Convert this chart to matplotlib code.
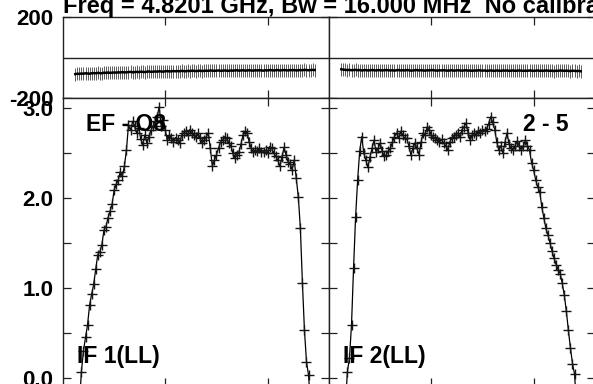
import matplotlib
matplotlib.use("Agg")
import matplotlib.pyplot as plt
import numpy as np

plt.rcParams['font.family'] = ['Liberation Sans', 'DejaVu Sans']
plt.rcParams['font.weight'] = 'bold'

title = "Freq = 4.8201 GHz, Bw = 16.000 MHz  No calibration"
panel_labels = ["IF 1(LL)", "IF 2(LL)"]
baseline_labels = ["EF - O8", "2 - 5"]

# phase (deg), channels 6..123
phase_chan = list(range(6, 124))
phase_if1 = [-82, -80, -81, -79, -80, -78, -79, -80, -78, -77,
             -78, -76, -77, -78, -75, -76, -74, -76, -75, -74,
             -75, -73, -74, -72, -74, -73, -72, -71, -73, -72,
             -71, -72, -70, -71, -72, -70, -69, -71, -70, -69,
             -70, -68, -69, -70, -68, -67, -69, -68, -67, -68,
             -67, -68, -66, -67, -68, -66, -67, -65, -66, -67,
             -66, -65, -67, -66, -65, -66, -64, -65, -66, -65,
             -64, -66, -65, -64, -65, -66, -64, -65, -64, -63,
             -65, -64, -63, -65, -64, -63, -64, -65, -63, -64,
             -63, -64, -65, -63, -64, -62, -63, -64, -63, -62,
             -64, -63, -62, -63, -64, -62, -63, -62, -64, -63,
             -62, -63, -61, -62, -63, -62, -61, -62]
phase_if2 = [-58, -60, -61, -62, -61, -63, -62, -61, -63, -62,
             -64, -63, -62, -64, -63, -62, -63, -64, -62, -63,
             -64, -63, -62, -63, -64, -63, -65, -63, -62, -64,
             -63, -64, -62, -63, -65, -64, -63, -62, -64, -63,
             -64, -65, -63, -64, -62, -63, -64, -65, -63, -64,
             -63, -64, -65, -64, -63, -65, -64, -63, -64, -65,
             -64, -63, -65, -64, -66, -64, -65, -63, -64, -65,
             -64, -66, -65, -64, -65, -66, -64, -65, -66, -64,
             -65, -64, -66, -65, -64, -66, -65, -64, -65, -66,
             -65, -66, -64, -65, -66, -65, -64, -66, -65, -66,
             -64, -65, -66, -65, -67, -65, -66, -64, -65, -66,
             -65, -66, -67, -65, -66, -67, -66, -68]
phase_err = 32

# amplitude, channels 8..121
amp_chan = list(range(8, 122))
amp_if1 = [-0.3, 0.07, 0.30, 0.45, 0.59, 0.81, 0.93, 1.04, 1.21, 1.37,
           1.40, 1.48, 1.64, 1.68, 1.78, 1.85, 1.93, 2.09, 2.15, 2.20,
           2.29, 2.24, 2.35, 2.53, 2.81, 2.75, 2.85, 2.80, 2.72, 2.78,
           2.65, 2.59, 2.70, 2.61, 2.68, 2.75, 2.80, 2.85, 2.90, 3.01,
           2.80, 2.87, 2.75, 2.64, 2.70, 2.66, 2.62, 2.67, 2.64, 2.61,
           2.70, 2.72, 2.74, 2.70, 2.76, 2.72, 2.70, 2.68, 2.72, 2.66,
           2.61, 2.64, 2.68, 2.72, 2.55, 2.35, 2.42, 2.48, 2.55, 2.62,
           2.64, 2.68, 2.66, 2.61, 2.58, 2.50, 2.44, 2.48, 2.51, 2.60,
           2.70, 2.74, 2.72, 2.62, 2.55, 2.51, 2.53, 2.52, 2.55, 2.51,
           2.51, 2.53, 2.50, 2.57, 2.55, 2.50, 2.46, 2.42, 2.35, 2.45,
           2.56, 2.48, 2.40, 2.38, 2.31, 2.42, 2.22, 2.01, 1.67, 1.06,
           0.53, 0.18, 0.03, -0.3]
amp_if2 = [-0.3, 0.07, 0.22, 0.59, 1.22, 1.79, 2.20, 2.52, 2.68, 2.50,
           2.42, 2.34, 2.45, 2.55, 2.64, 2.51, 2.55, 2.61, 2.52, 2.46,
           2.48, 2.52, 2.55, 2.62, 2.68, 2.72, 2.66, 2.74, 2.70, 2.66,
           2.66, 2.58, 2.48, 2.55, 2.61, 2.55, 2.48, 2.62, 2.72, 2.70,
           2.79, 2.75, 2.70, 2.68, 2.66, 2.64, 2.62, 2.65, 2.61, 2.58,
           2.53, 2.62, 2.66, 2.68, 2.70, 2.72, 2.68, 2.76, 2.79, 2.83,
           2.72, 2.64, 2.70, 2.72, 2.70, 2.74, 2.72, 2.76, 2.74, 2.77,
           2.82, 2.90, 2.84, 2.76, 2.62, 2.53, 2.58, 2.50, 2.62, 2.72,
           2.60, 2.55, 2.53, 2.58, 2.63, 2.58, 2.53, 2.58, 2.64, 2.58,
           2.53, 2.39, 2.31, 2.20, 2.12, 2.07, 1.90, 1.78, 1.66, 1.59,
           1.50, 1.41, 1.33, 1.26, 1.20, 1.16, 1.05, 0.92, 0.74, 0.53,
           0.33, 0.16, 0.04, -0.3]

W, H = 593, 384
fig = plt.figure(figsize=(W / 100, H / 100), dpi=100)

def fx(px):
    return px / W

def fy(py_top, py_bot):
    return (H - py_bot) / H, (py_bot - py_top) / H

pw = 266
lefts = [63, 329]
top_b, top_h = fy(17, 98)
bot_b, bot_h = fy(98, 386)

phases = [phase_if1, phase_if2]
amps = [amp_if1, amp_if2]

for i in range(2):
    axp = fig.add_axes([fx(lefts[i]), top_b, fx(pw), top_h])
    axa = fig.add_axes([fx(lefts[i]), bot_b, fx(pw), bot_h])

    axp.errorbar(phase_chan, phases[i], yerr=phase_err, fmt='none',
                 ecolor='#5c5c5c', elinewidth=0.7, capsize=0, zorder=2)
    axp.plot(phase_chan, phases[i], color='black', lw=1.8, zorder=3)
    axp.axhline(0, color='#222222', lw=1.0, zorder=1)
    axp.set_ylim(-200, 200)
    axp.set_xlim(0, 130)

    axa.plot(amp_chan, amps[i], color='black', lw=0.9, marker='+',
             ms=7.5, mew=1.0, mec='#151515', zorder=3)
    axa.set_ylim(-0.09, 3.11)
    axa.set_xlim(0, 130)

    for ax in (axp, axa):
        ax.set_xticks([50, 100])
        ax.set_xticklabels([])
        ax.tick_params(direction='in', length=6, width=0.9, top=True,
                       right=True, labelsize=16, pad=7, color='#222222')
        for s in ax.spines.values():
            s.set_linewidth(1.0)
            s.set_color('#222222')

    axp.set_yticks([-200, 200])
    axa.set_yticks([0, 0.5, 1.0, 1.5, 2.0, 2.5, 3.0])
    if i == 0:
        axp.set_yticklabels(['-200', '200'], fontweight='bold')
        axa.set_yticklabels(['0.0', '', '1.0', '', '2.0', '', '3.0'],
                            fontweight='bold')
    else:
        axp.set_yticklabels([])
        axa.set_yticklabels([])

    axa.text(0.053, 0.080, panel_labels[i], transform=axa.transAxes,
             fontsize=16.5, fontweight='bold', ha='left', va='baseline')
    if i == 0:
        axa.text(0.0865, 0.885, baseline_labels[i], transform=axa.transAxes,
                 fontsize=16.5, fontweight='bold', ha='left', va='baseline')
    else:
        axa.text(0.902, 0.885, baseline_labels[i], transform=axa.transAxes,
                 fontsize=16.5, fontweight='bold', ha='right', va='baseline')

fig.text(fx(63), 1 - 13.5 / H, title, fontsize=17, fontweight='bold',
         ha='left', va='baseline')

fig.savefig("out.png", dpi=100)
